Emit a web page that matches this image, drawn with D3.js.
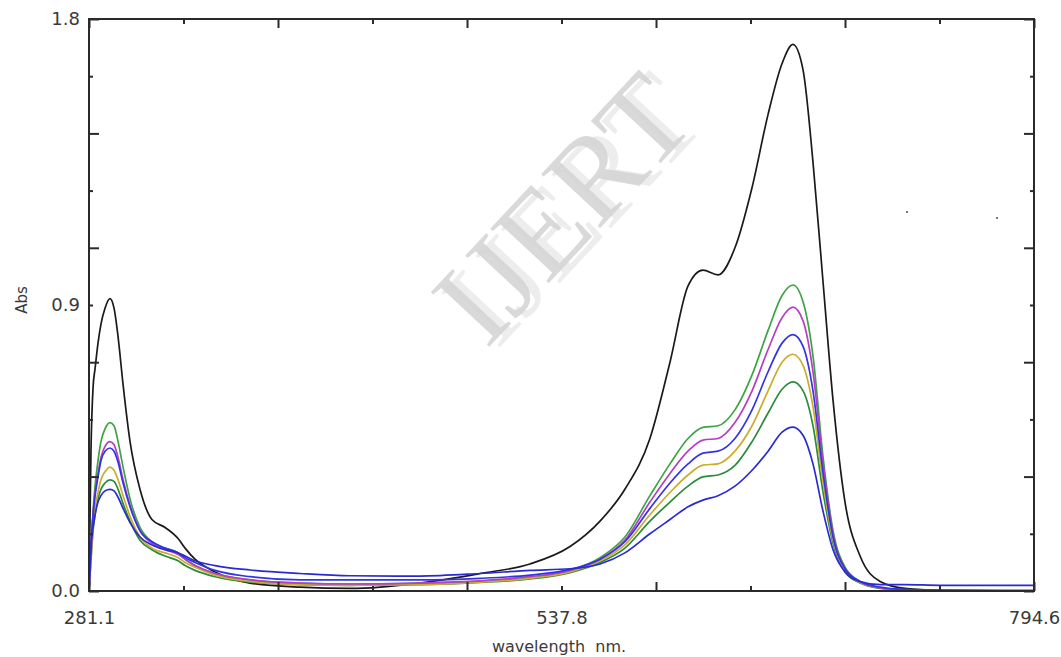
<!DOCTYPE html>
<html>
<head>
<meta charset="utf-8">
<script src="https://cdn.jsdelivr.net/npm/d3@7"></script>
<style>
  html, body { margin: 0; padding: 0; background: #fff; }
  svg { display: block; }
</style>
</head>
<body>
<div id="chart"></div>
<script>
// Absorbance spectra, values
const wavelengths = [281.1, 282.2, 283.3, 284.4, 286.0, 287.6, 289.8, 292.5, 294.7, 296.9,
    299.6, 303.4, 308.8, 315.3, 322.4, 329.5, 333.3, 338.7, 349.6, 368.6,
    395.8, 422.9, 460.9, 493.6, 520.7, 542.5, 558.8, 572.3, 585.9, 596.8,
    606.6, 614.7, 622.9, 632.1, 641.4, 650.1, 657.7, 663.6, 669.1, 674.5,
    680.0, 685.4, 691.9, 700.1, 711.0, 724.5, 743.5, 794.6];

const absBlack = [0.0, 0.45, 0.64, 0.70, 0.78, 0.84, 0.89, 0.92, 0.89, 0.80,
    0.65, 0.47, 0.32, 0.225, 0.20, 0.165, 0.135, 0.10, 0.06, 0.025,
    0.012, 0.008, 0.025, 0.055, 0.085, 0.14, 0.22, 0.32, 0.48, 0.72,
    0.96, 1.01, 0.995, 1.08, 1.27, 1.50, 1.66, 1.72, 1.64, 1.35,
    0.97, 0.60, 0.28, 0.11, 0.03, 0.008, 0.002, 0.0];

const absGreen1 = [0, 0.12, 0.25, 0.33, 0.41, 0.47, 0.51, 0.53, 0.52, 0.47,
    0.39, 0.29, 0.20, 0.155, 0.135, 0.12, 0.10, 0.08, 0.055, 0.035,
    0.025, 0.022, 0.025, 0.03, 0.04, 0.065, 0.105, 0.17, 0.30, 0.40,
    0.48, 0.515, 0.52, 0.57, 0.68, 0.82, 0.93, 0.963, 0.91, 0.74,
    0.42, 0.19, 0.075, 0.03, 0.01, 0.003, 0, 0];

const absMagenta = [0, 0.12, 0.24, 0.31, 0.37, 0.42, 0.455, 0.47, 0.46, 0.42,
    0.35, 0.27, 0.19, 0.15, 0.13, 0.115, 0.10, 0.08, 0.055, 0.035,
    0.025, 0.022, 0.025, 0.032, 0.045, 0.065, 0.10, 0.16, 0.28, 0.37,
    0.44, 0.475, 0.48, 0.53, 0.63, 0.76, 0.86, 0.893, 0.85, 0.69,
    0.40, 0.18, 0.07, 0.028, 0.01, 0.003, 0, 0];

const absBlue1 = [0, 0.15, 0.24, 0.30, 0.36, 0.41, 0.44, 0.45, 0.44, 0.405,
    0.34, 0.265, 0.19, 0.155, 0.135, 0.12, 0.105, 0.09, 0.065, 0.045,
    0.035, 0.035, 0.035, 0.04, 0.05, 0.068, 0.10, 0.155, 0.26, 0.34,
    0.40, 0.434, 0.44, 0.48, 0.57, 0.69, 0.78, 0.807, 0.77, 0.63,
    0.37, 0.17, 0.07, 0.03, 0.012, 0.005, 0.003, 0.002];

const absYellow = [0, 0.10, 0.20, 0.26, 0.31, 0.35, 0.375, 0.39, 0.38, 0.35,
    0.30, 0.235, 0.17, 0.135, 0.12, 0.105, 0.09, 0.075, 0.05, 0.03,
    0.02, 0.018, 0.02, 0.028, 0.04, 0.06, 0.095, 0.145, 0.24, 0.31,
    0.365, 0.396, 0.40, 0.44, 0.52, 0.63, 0.72, 0.745, 0.71, 0.58,
    0.34, 0.16, 0.065, 0.027, 0.01, 0.003, 0, 0];

const absGreen2 = [0, 0.10, 0.19, 0.24, 0.29, 0.32, 0.34, 0.35, 0.345, 0.32,
    0.275, 0.22, 0.16, 0.13, 0.11, 0.095, 0.08, 0.065, 0.045, 0.028,
    0.02, 0.018, 0.02, 0.027, 0.038, 0.058, 0.09, 0.135, 0.22, 0.28,
    0.33, 0.359, 0.365, 0.395, 0.47, 0.56, 0.635, 0.658, 0.63, 0.52,
    0.31, 0.15, 0.06, 0.025, 0.008, 0.002, 0, 0];

const absBlue2 = [0, 0.14, 0.20, 0.24, 0.28, 0.30, 0.315, 0.32, 0.315, 0.295,
    0.26, 0.215, 0.17, 0.145, 0.13, 0.12, 0.11, 0.095, 0.08, 0.066,
    0.055, 0.048, 0.047, 0.055, 0.065, 0.07, 0.085, 0.12, 0.18, 0.225,
    0.265, 0.286, 0.30, 0.33, 0.38, 0.44, 0.50, 0.516, 0.49, 0.40,
    0.25, 0.13, 0.06, 0.03, 0.02, 0.02, 0.018, 0.018];

// axis ticks and labels
const xLabelValues = [281.1, 537.8, 794.6];
const xLabelText = ['281.1', '537.8', '794.6'];
const yLabelValues = [0, 0.9, 1.8];
const yLabelText = ['0.0', '0.9', '1.8'];
const xTickValues = [281.1, 332.45, 383.8, 435.15, 486.5, 537.85, 589.2, 640.55, 691.9, 743.25, 794.6];
const yTickValues = [0, 0.18, 0.36, 0.54, 0.72, 0.9, 1.08, 1.26, 1.44, 1.62, 1.8];

function drawChart() {
    const width = 1061;
    const height = 657;
    const margin = { top: 19, right: 27, bottom: 66, left: 89 };

    const svg = d3.select('#chart').append('svg')
        .attr('width', width)
        .attr('height', height)
        .style('background', '#fff');

    const x = d3.scaleLinear()
        .domain([281.1, 794.6])
        .range([margin.left, width - margin.right]);
    const y = d3.scaleLinear()
        .domain([0, 1.8])
        .range([height - margin.bottom, margin.top]);

    // watermark behind everything
    const wm = svg.append('g')
        .attr('transform', 'translate(562,208) rotate(-47)');
    wm.append('text')
        .attr('x', 7).attr('y', 8)
        .attr('text-anchor', 'middle')
        .attr('dominant-baseline', 'central')
        .style('font-family', '"Liberation Serif", serif')
        .style('font-size', '122px')
        .attr('fill', '#ededed')
        .text('IJERT');
    wm.append('text')
        .attr('text-anchor', 'middle')
        .attr('dominant-baseline', 'central')
        .style('font-family', '"Liberation Serif", serif')
        .style('font-size', '122px')
        .attr('fill', '#d2d2d2')
        .attr('fill-opacity', 0.85)
        .text('IJERT');

    // series, drawn bottom to top
    const series = [
        { values: absBlack, color: '#1a1a1a' },
        { values: absGreen1, color: '#3da343' },
        { values: absGreen2, color: '#2b8a3b' },
        { values: absYellow, color: '#c9ad2c' },
        { values: absMagenta, color: '#b53fc2' },
        { values: absBlue1, color: '#3434e6' },
        { values: absBlue2, color: '#2a2ad2' }
    ];

    const line = d3.line()
        .x((d, i) => x(wavelengths[i]))
        .y(d => y(d))
        .curve(d3.curveMonotoneX);

    svg.append('g')
        .selectAll('path')
        .data(series)
        .join('path')
        .attr('d', d => line(d.values))
        .attr('fill', 'none')
        .attr('stroke', d => d.color)
        .attr('stroke-width', 1.7)
        .attr('stroke-linejoin', 'round');

    // frame
    svg.append('rect')
        .attr('x', margin.left)
        .attr('y', margin.top)
        .attr('width', width - margin.left - margin.right)
        .attr('height', height - margin.top - margin.bottom)
        .attr('fill', 'none')
        .attr('stroke', '#2a2a2a')
        .attr('stroke-width', 2);

    // inward ticks: even steps long, odd steps short
    const longX = xTickValues.filter((d, i) => i % 2 === 0);
    const shortX = xTickValues.filter((d, i) => i % 2 === 1);
    const longY = yTickValues.filter((d, i) => i % 2 === 0);
    const shortY = yTickValues.filter((d, i) => i % 2 === 1);

    const tickAxes = [
        [d3.axisBottom(x).tickValues(longX).tickSize(-9), `translate(0,${y(0)})`],
        [d3.axisBottom(x).tickValues(shortX).tickSize(-5), `translate(0,${y(0)})`],
        [d3.axisTop(x).tickValues(longX).tickSize(-9), `translate(0,${y(1.8)})`],
        [d3.axisTop(x).tickValues(shortX).tickSize(-5), `translate(0,${y(1.8)})`],
        [d3.axisLeft(y).tickValues(longY).tickSize(-10), `translate(${x(281.1)},0)`],
        [d3.axisLeft(y).tickValues(shortY).tickSize(-4), `translate(${x(281.1)},0)`],
        [d3.axisRight(y).tickValues(longY).tickSize(-10), `translate(${x(794.6)},0)`],
        [d3.axisRight(y).tickValues(shortY).tickSize(-4), `translate(${x(794.6)},0)`]
    ];
    tickAxes.forEach(([axis, tr]) => {
        const g = svg.append('g')
            .attr('transform', tr)
            .call(axis.tickFormat(''));
        g.select('.domain').remove();
        g.selectAll('.tick line').attr('stroke', '#2a2a2a').attr('stroke-width', 2);
    });

    // tick labels
    const labelFont = '"DejaVu Sans", sans-serif';
    const xLab = svg.append('g')
        .attr('transform', `translate(0,${y(0)})`)
        .call(d3.axisBottom(x).tickValues(xLabelValues).tickSize(0).tickPadding(20)
            .tickFormat((d, i) => xLabelText[i]));
    xLab.select('.domain').remove();
    xLab.selectAll('text')
        .style('font-family', labelFont)
        .style('font-size', '18px')
        .attr('fill', '#3a3a3a');

    const yLab = svg.append('g')
        .attr('transform', `translate(${x(281.1)},0)`)
        .call(d3.axisLeft(y).tickValues(yLabelValues).tickSize(0).tickPadding(9)
            .tickFormat((d, i) => yLabelText[i]));
    yLab.select('.domain').remove();
    yLab.selectAll('text')
        .style('font-family', labelFont)
        .style('font-size', '18px')
        .attr('fill', '#3a3a3a');

    // axis titles
    svg.append('text')
        .attr('x', 559)
        .attr('y', 652)
        .attr('text-anchor', 'middle')
        .style('font-family', labelFont)
        .style('font-size', '16px')
        .attr('fill', '#3a3a3a')
        .attr('xml:space', 'preserve')
        .text('wavelength  nm.');

    svg.append('text')
        .attr('transform', 'translate(27,300) rotate(-90)')
        .attr('text-anchor', 'middle')
        .style('font-family', labelFont)
        .style('font-size', '15px')
        .attr('fill', '#3a3a3a')
        .text('Abs');

    // two stray specks from the scan
    svg.append('g')
        .selectAll('rect')
        .data([[907, 212], [997, 218]])
        .join('rect')
        .attr('x', d => d[0] - 1).attr('y', d => d[1] - 1)
        .attr('width', 2).attr('height', 2)
        .attr('fill', '#777');
}

document.addEventListener('DOMContentLoaded', () => {
    drawChart();
});
</script>
</body>
</html>
